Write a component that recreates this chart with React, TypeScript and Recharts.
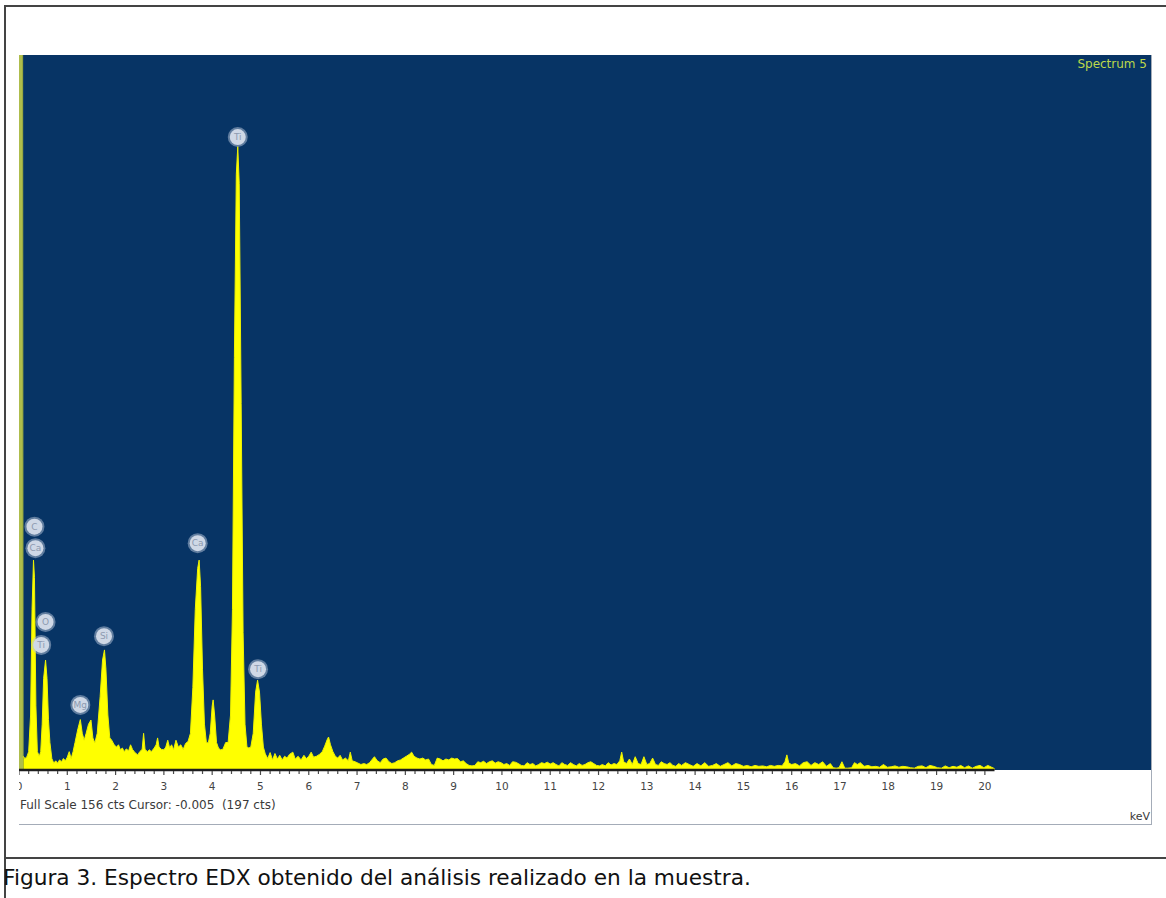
import React from "react";
import { ComposedChart, Area, XAxis, YAxis, CartesianGrid, Scatter, ReferenceLine } from "recharts";

// Zero (noise) peak at the origin, greenish bar
const zeroPeakKeV = [0, 0.06, 0.085];
const zeroPeakCts = [400, 400, 3];

// Spectrum (keV, counts)
const spectrumKeV = [
  0.09, 0.12, 0.16, 0.2, 0.24, 0.27, 0.3, 0.32, 0.35, 0.38, 0.42, 0.45, 0.48, 0.51, 0.55, 0.58, 0.61, 0.64, 0.68,
  0.72, 0.76, 0.8, 0.84, 0.88, 0.92, 0.96, 1.0, 1.04, 1.08, 1.12, 1.16, 1.22, 1.27, 1.31, 1.35, 1.39, 1.44, 1.49,
  1.53, 1.57, 1.62, 1.68, 1.73, 1.77, 1.8, 1.84, 1.88, 1.92, 1.97, 2.02, 2.06, 2.1, 2.14, 2.18, 2.22, 2.27, 2.31,
  2.35, 2.4, 2.46, 2.5, 2.55, 2.58, 2.61, 2.66, 2.7, 2.74, 2.8, 2.84, 2.87, 2.9, 2.95, 3.0, 3.04, 3.08, 3.12, 3.16,
  3.2, 3.25, 3.3, 3.35, 3.4, 3.45, 3.5, 3.55, 3.6, 3.65, 3.7, 3.73, 3.76, 3.8, 3.84, 3.88, 3.92, 3.96, 4.0, 4.02,
  4.05, 4.09, 4.13, 4.17, 4.22, 4.28, 4.33, 4.38, 4.42, 4.46, 4.5, 4.53, 4.56, 4.6, 4.64, 4.68, 4.72, 4.76, 4.8,
  4.85, 4.9, 4.94, 4.98, 5.02, 5.06, 5.1, 5.15, 5.2, 5.25, 5.3, 5.35, 5.4, 5.45, 5.5, 5.55, 5.6, 5.67, 5.72, 5.78,
  5.84, 5.9, 5.95, 6.0, 6.05, 6.1, 6.16, 6.22, 6.28, 6.33, 6.38, 6.41, 6.45, 6.5, 6.55, 6.6, 6.65, 6.7, 6.76, 6.82,
  6.86, 6.9, 6.96, 7.02, 7.08, 7.14, 7.2, 7.26, 7.32, 7.36, 7.42, 7.48, 7.54, 7.6, 7.66, 7.72, 7.78, 7.84, 7.9,
  7.96, 8.02, 8.08, 8.13, 8.18, 8.24, 8.3, 8.36, 8.42, 8.48, 8.54, 8.6, 8.66, 8.72, 8.78, 8.84, 8.9, 8.96, 9.02,
  9.08, 9.14, 9.2, 9.26, 9.32, 9.38, 9.44, 9.5, 9.56, 9.62, 9.68, 9.74, 9.8, 9.86, 9.92, 9.98, 10.04, 10.1, 10.16,
  10.22, 10.28, 10.34, 10.4, 10.46, 10.52, 10.58, 10.64, 10.7, 10.76, 10.82, 10.88, 10.94, 11.0, 11.06, 11.12,
  11.18, 11.24, 11.3, 11.36, 11.42, 11.48, 11.54, 11.6, 11.66, 11.72, 11.78, 11.84, 11.9, 11.96, 12.02, 12.08,
  12.14, 12.2, 12.26, 12.32, 12.38, 12.44, 12.48, 12.52, 12.58, 12.64, 12.7, 12.76, 12.82, 12.88, 12.94, 13.0,
  13.06, 13.12, 13.18, 13.24, 13.3, 13.36, 13.42, 13.48, 13.54, 13.6, 13.66, 13.72, 13.8, 13.88, 13.96, 14.04,
  14.12, 14.2, 14.28, 14.36, 14.44, 14.52, 14.6, 14.68, 14.76, 14.84, 14.92, 15.0, 15.08, 15.16, 15.24, 15.32,
  15.4, 15.48, 15.56, 15.64, 15.72, 15.8, 15.86, 15.9, 15.94, 16.0, 16.08, 16.16, 16.24, 16.32, 16.4, 16.48,
  16.56, 16.64, 16.72, 16.8, 16.86, 16.92, 16.98, 17.04, 17.1, 17.16, 17.24, 17.3, 17.36, 17.42, 17.5, 17.58,
  17.66, 17.74, 17.82, 17.9, 17.98, 18.06, 18.14, 18.22, 18.3, 18.38, 18.46, 18.54, 18.62, 18.7, 18.78, 18.86,
  18.94, 19.02, 19.1, 19.18, 19.26, 19.34, 19.42, 19.5, 19.58, 19.66, 19.74, 19.82, 19.9, 19.98, 20.06, 20.14, 20.2,
];
const spectrumCts = [
  3, 2.5, 2.8, 4, 12, 35, 45.8, 42, 14, 4, 3, 4, 10, 20, 24, 20, 11, 6, 2.5,
  1.5, 2, 1.5, 2.2, 1.8, 2.5, 2, 2.8, 4, 2.5, 4, 6, 9, 11, 8, 6.5, 8, 10, 10.9,
  7, 5.9, 8, 16, 24, 26.2, 22, 12, 7, 6.5, 5.5, 5, 5.5, 4.4, 4.8, 4, 4.6, 4.2, 5.5,
  4.5, 3.8, 3.3, 4, 4.5, 8, 4.5, 4, 4.4, 4, 4.8, 5.5, 7, 5, 4.5, 4.4, 5, 6.5, 4.8, 5.5,
  4.4, 6.5, 5, 5.5, 4.5, 5.8, 6.2, 8, 18, 35, 44, 45.8, 40, 22, 10, 6, 5.9, 8, 14, 15.3,
  12, 6, 4.8, 4.4, 4.5, 6, 6, 12, 35, 90, 130, 136, 128, 80, 30, 10, 5, 4.8, 5,
  8, 17, 19.6, 17, 10, 5, 3.5, 2.5, 3.8, 2.2, 3.6, 2.4, 3.2, 2.2, 3, 2.6, 3.4, 3.9, 2.4, 3,
  2.2, 3.2, 2.5, 3, 3.9, 2.8, 3, 3.4, 4, 5.2, 6.6, 7.2, 5.5, 4, 3, 2.6, 3.2, 2.2, 2.6, 2,
  3.9, 2, 1.8, 1.5, 1.2, 1.4, 1.2, 1.6, 2.4, 2.9, 2, 1.6, 2.4, 2.6, 1.8, 1.4, 1.6, 2, 2.2,
  2.6, 3, 3.4, 3.9, 3, 2.6, 2.4, 2.6, 2.2, 2.4, 1.2, 1, 2.6, 2.4, 2, 2.4, 2.2, 2.6, 2.4,
  2.5, 1.8, 2, 1.4, 1, 0.9, 1, 1.8, 1.6, 1.9, 1.4, 1.8, 2, 1.5, 1.8, 1.6, 1.2, 1.4, 1,
  1.8, 1.7, 1.4, 1, 0.9, 1.6, 1.2, 1.4, 0.9, 1.2, 1.6, 1.4, 1.7, 1.3, 1.6, 1.2,
  0.9, 1.6, 1.2, 1, 1.6, 1.2, 0.9, 1.4, 1, 1.2, 1.6, 1.8, 1.4, 1, 0.9, 1.2,
  0.9, 1.6, 1.1, 1.4, 1.2, 2, 3.9, 1.8, 1.4, 2.4, 1.2, 2.9, 1.4, 1.2, 2.9, 1.2,
  1.4, 2.6, 1.2, 1, 1.8, 1.4, 1.2, 1.6, 1, 0.8, 1.4, 1, 1.6, 1.2, 0.8, 1.4,
  0.9, 1.6, 0.8, 1, 1.4, 0.8, 1.2, 1.6, 0.9, 1.4, 1.2, 0.8, 1, 0.7, 1, 0.8,
  0.9, 0.7, 1, 0.8, 1, 0.9, 1.8, 3.3, 1.5, 1.2, 1.4, 0.9, 1.6, 1.8, 1, 1.6,
  1.2, 1.8, 0.8, 1.4, 0.5, 0.4, 0.5, 1.8, 0.4, 0.4, 0.5, 1.6, 1.2, 1.6, 0.8, 1,
  0.7, 0.8, 0.6, 1.2, 0.6, 0.7, 0.9, 0.6, 0.8, 0.7, 0.5, 0.4, 0.8, 0.9, 0.5, 1,
  0.8, 0.5, 0.4, 0.9, 0.5, 0.8, 0.6, 1, 0.5, 0.9, 0.4, 0.8, 1, 0.5, 1, 0.6, 0.3,
];

// Element markers
const peakLabelNames = ["C", "Ca", "O", "Ti", "Mg", "Si", "Ca", "Ti", "Ti"];
const peakLabelKeV = [0.32, 0.34, 0.55, 0.46, 1.27, 1.76, 3.7, 4.53, 4.95];
const peakLabelCts = [53.1, 48.4, 32.3, 27.3, 14.2, 29.2, 49.5, 138.1, 22.0];

// Axis ticks
const majorTicks = [0, 1, 2, 3, 4, 5, 6, 7, 8, 9, 10, 11, 12, 13, 14, 15, 16, 17, 18, 19, 20];
const minorSteps = [0, 0.2, 0.4, 0.6, 0.8];
const allTicks: number[] = [];
majorTicks.forEach((m) => {
  minorSteps.forEach((s) => {
    if (m + s <= 20.0001) allTicks.push(Math.round((m + s) * 10) / 10);
  });
});

const fullScale = 156;
const xMax = 23.44;

const rows: any[] = [
  ...zeroPeakKeV.map((k, i) => ({ keV: k, zero: zeroPeakCts[i] })),
  ...spectrumKeV.map((k, i) => ({ keV: k, cts: spectrumCts[i] })),
];
const labelRows = peakLabelNames.map((n, i) => ({ keV: peakLabelKeV[i], lbl: peakLabelCts[i], name: n }));
const lastKeV = spectrumKeV[spectrumKeV.length - 1];

const Tick = (props: any) => {
  const { x, y, payload } = props;
  const v = payload.value;
  const major = Math.abs(v - Math.round(v)) < 1e-6;
  return (
    <g>
      <line x1={x} x2={x} y1={y + 1} y2={y + (major ? 5 : 4)} stroke="#4a4a4a" strokeWidth={1.2} />
      {major && (
        <text x={x} y={y + 20} textAnchor="middle" fontSize={10.5} fill="#444" fontFamily="DejaVu Sans">
          {Math.round(v)}
        </text>
      )}
    </g>
  );
};

const Marker = (props: any) => {
  const { cx, cy, payload } = props;
  return (
    <g>
      <circle cx={cx} cy={cy} r={10} fill="#b9c6da" opacity={0.5} />
      <circle cx={cx} cy={cy} r={8} fill="#cfd8e6" />
      <text x={cx} y={cy + 3.2} textAnchor="middle" fontSize={9} fill="#8d9ab0" fontFamily="DejaVu Sans">
        {payload.name}
      </text>
    </g>
  );
};

export default function App() {
  return (
    <div style={{ position: "absolute", left: 0, top: 0, width: 1166, height: 898, background: "#fff", overflow: "hidden" }}>
      {/* figure frame */}
      <div style={{ position: "absolute", left: 4, top: 5, width: 1170, height: 2, background: "#444" }} />
      <div style={{ position: "absolute", left: 4, top: 5, width: 2, height: 900, background: "#444" }} />
      <div style={{ position: "absolute", left: 4, top: 857, width: 1170, height: 2, background: "#444" }} />
      <div
        style={{
          position: "absolute",
          left: 3,
          top: 864,
          fontFamily: "'DejaVu Sans', Verdana, sans-serif",
          fontSize: 21.7,
          lineHeight: "28px",
          color: "#111",
          whiteSpace: "nowrap",
        }}
      >
        Figura 3. Espectro EDX obtenido del análisis realizado en la muestra.
      </div>

      {/* spectrum panel */}
      <div
        style={{
          position: "absolute",
          left: 19,
          top: 55,
          width: 1132,
          height: 769,
          background: "#fff",
          borderRight: "1px solid #a4acb8",
          borderBottom: "1px solid #a4acb8",
        }}
      >
        <ComposedChart width={1132} height={760} data={rows} margin={{ top: 0, right: 0, left: 0, bottom: 0 }}>
          <CartesianGrid fill="#073465" horizontal={false} vertical={false} stroke="none" />
          <XAxis
            dataKey="keV"
            type="number"
            domain={[0, xMax]}
            ticks={allTicks}
            interval={0}
            height={45}
            axisLine={false}
            tickLine={false}
            tickSize={0}
            tickMargin={0}
            tick={<Tick />}
            allowDataOverflow
          />
          <YAxis hide type="number" domain={[0, fullScale]} allowDataOverflow />
          <Area
            type="linear"
            dataKey="zero"
            fill="#aebd4c"
            fillOpacity={1}
            stroke="#9aab40"
            strokeWidth={1}
            isAnimationActive={false}
            dot={false}
            activeDot={false}
          />
          <Area
            type="linear"
            dataKey="cts"
            connectNulls
            fill="#ffff00"
            fillOpacity={1}
            stroke="#eef200"
            strokeWidth={1}
            isAnimationActive={false}
            dot={false}
            activeDot={false}
          />
          <ReferenceLine
            segment={[
              { x: 0, y: 0 },
              { x: lastKeV, y: 0 },
            ]}
            stroke="#1e1e1e"
            strokeWidth={2.5}
          />
          <Scatter data={labelRows} dataKey="lbl" shape={<Marker />} isAnimationActive={false} />
        </ComposedChart>
        <div
          style={{
            position: "absolute",
            right: 4,
            top: 2,
            fontFamily: "'DejaVu Sans', sans-serif",
            fontSize: 12,
            color: "#bcd84a",
            whiteSpace: "nowrap",
          }}
        >
          Spectrum 5
        </div>
        <div
          style={{
            position: "absolute",
            left: 1,
            top: 743,
            fontFamily: "'DejaVu Sans', sans-serif",
            fontSize: 12,
            color: "#3a3a3a",
            whiteSpace: "pre",
          }}
        >
          Full Scale 156 cts Cursor: -0.005  (197 cts)
        </div>
        <div
          style={{
            position: "absolute",
            right: 1,
            top: 755,
            fontFamily: "'DejaVu Sans', sans-serif",
            fontSize: 11,
            color: "#3a3a3a",
          }}
        >
          keV
        </div>
      </div>
    </div>
  );
}
